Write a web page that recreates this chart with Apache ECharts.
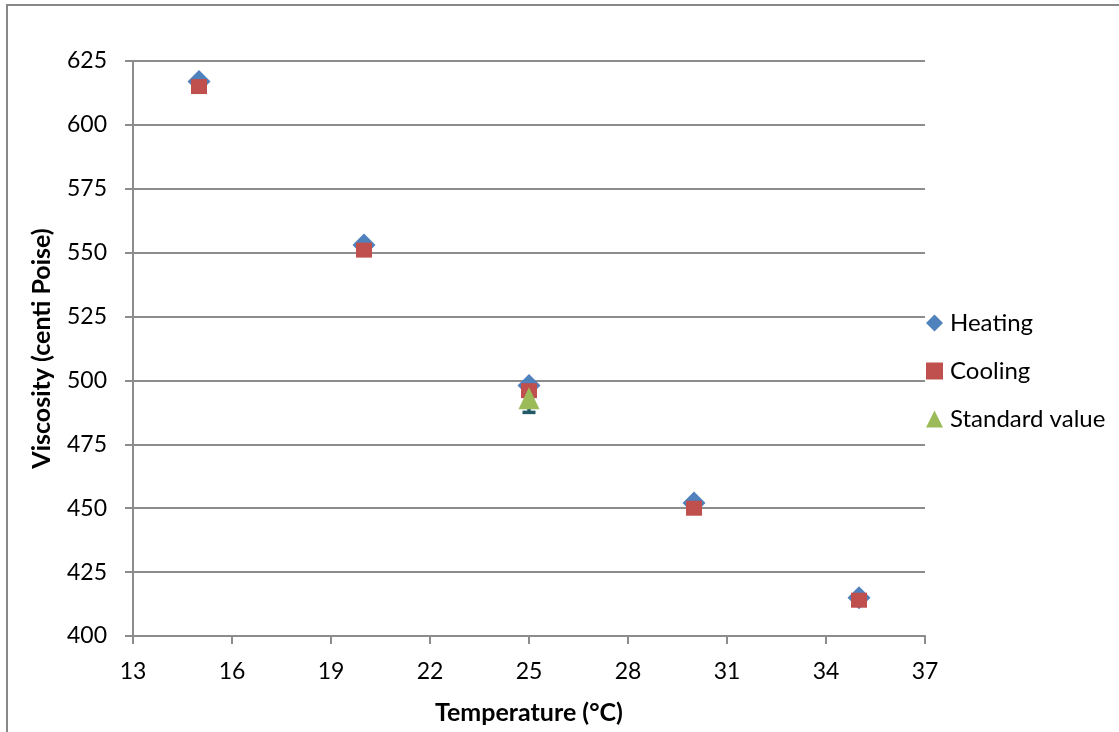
<!DOCTYPE html>
<html>
<head>
<meta charset="utf-8">
<script src="https://cdn.jsdelivr.net/npm/echarts@6/dist/echarts.min.js"></script>
<style>
  html, body { margin: 0; padding: 0; background: #fff; }
  #chart { width: 1119px; height: 732px; }
</style>
</head>
<body>
<div id="chart"></div>
<script>
// Viscosity measured while heating and cooling, with the reference value at 25 °C
const temperatures = [15, 20, 25, 30, 35];
const heating = [617, 553, 498, 452, 415];
const cooling = [615, 551, 496, 450, 414];
const standardTemp = [25];
const standardValue = [493];
const standardError = [5.5];
const xTicks = [13, 16, 19, 22, 25, 28, 31, 34, 37];
const yTicks = [400, 425, 450, 475, 500, 525, 550, 575, 600, 625];

const FONT = 'Lato, "Open Sans", sans-serif';
const GRID = '#8c8c8c';

const chart = echarts.init(document.getElementById('chart'), null, { renderer: 'canvas' });

const pairs = (xs, ys) => xs.map((x, i) => [x, ys[i]]);

chart.setOption({
  animation: false,
  backgroundColor: '#fff',
  textStyle: { fontFamily: FONT, color: '#000' },
  graphic: [{
    type: 'rect',
    shape: { x: 7, y: 5, width: 1140, height: 760 },
    style: { fill: 'none', stroke: '#888', lineWidth: 2 },
    silent: true
  }],
  grid: { left: 133, right: 194, top: 61, bottom: 96, containLabel: false },
  legend: {
    orient: 'vertical',
    left: 926,
    top: 311,
    padding: 0,
    itemWidth: 17,
    itemHeight: 17,
    itemGap: 24,
    textStyle: { fontFamily: FONT, fontSize: 24, color: '#000', lineHeight: 24, padding: [0, 0, 0, 2] },
    data: [
      { name: 'Heating', icon: 'diamond' },
      { name: 'Cooling', icon: 'rect' },
      { name: 'Standard value', icon: 'triangle' }
    ]
  },
  xAxis: {
    type: 'value',
    min: xTicks[0],
    max: xTicks[xTicks.length - 1],
    name: 'Temperature (°C)',
    nameLocation: 'middle',
    nameGap: 64,
    nameTextStyle: { fontFamily: FONT, fontSize: 25, fontWeight: 'bold', color: '#000' },
    axisLine: { show: true, onZero: false, lineStyle: { color: GRID, width: 2 } },
    axisTick: { show: true, length: 8, customValues: xTicks, lineStyle: { color: GRID, width: 2 } },
    axisLabel: { customValues: xTicks, margin: 24, fontSize: 23, color: '#000', fontFamily: FONT },
    splitLine: { show: false }
  },
  yAxis: {
    type: 'value',
    min: yTicks[0],
    max: yTicks[yTicks.length - 1],
    interval: 25,
    name: 'Viscosity (centi Poise)',
    nameLocation: 'middle',
    nameGap: 79,
    nameTextStyle: { fontFamily: FONT, fontSize: 25, fontWeight: 'bold', color: '#000' },
    axisLine: { show: true, lineStyle: { color: GRID, width: 2 } },
    axisTick: { show: true, length: 8, lineStyle: { color: GRID, width: 2 } },
    axisLabel: { margin: 26, fontSize: 23, color: '#000', fontFamily: FONT },
    splitLine: { show: true, lineStyle: { color: GRID, width: 2 } }
  },
  series: [
    {
      name: 'Standard error',
      type: 'custom',
      z: 1,
      data: standardTemp.map((x, i) => [x, standardValue[i] - standardError[i], standardValue[i] + standardError[i]]),
      renderItem: function (params, api) {
        const lo = api.coord([api.value(0), api.value(1)]);
        const hi = api.coord([api.value(0), api.value(2)]);
        const half = 6.5;
        const style = { stroke: '#215967', lineWidth: 3.5, fill: 'none' };
        return {
          type: 'group',
          children: [
            { type: 'line', shape: { x1: lo[0], y1: lo[1], x2: hi[0], y2: hi[1] }, style: style },
            { type: 'line', shape: { x1: lo[0] - half, y1: lo[1], x2: lo[0] + half, y2: lo[1] }, style: style },
            { type: 'line', shape: { x1: hi[0] - half, y1: hi[1], x2: hi[0] + half, y2: hi[1] }, style: style }
          ]
        };
      }
    },
    {
      name: 'Heating',
      type: 'scatter',
      z: 2,
      symbol: 'diamond',
      symbolSize: 23,
      itemStyle: { color: '#4F81BD', opacity: 1 },
      data: pairs(temperatures, heating)
    },
    {
      name: 'Cooling',
      type: 'scatter',
      z: 3,
      symbol: 'rect',
      symbolSize: [16, 15],
      itemStyle: { color: '#C0504D', opacity: 1 },
      data: pairs(temperatures, cooling)
    },
    {
      name: 'Standard value',
      type: 'scatter',
      z: 4,
      symbol: 'triangle',
      symbolSize: [21, 22],
      itemStyle: { color: '#9BBB59', opacity: 1 },
      data: pairs(standardTemp, standardValue)
    }
  ]
});
</script>
</body>
</html>
